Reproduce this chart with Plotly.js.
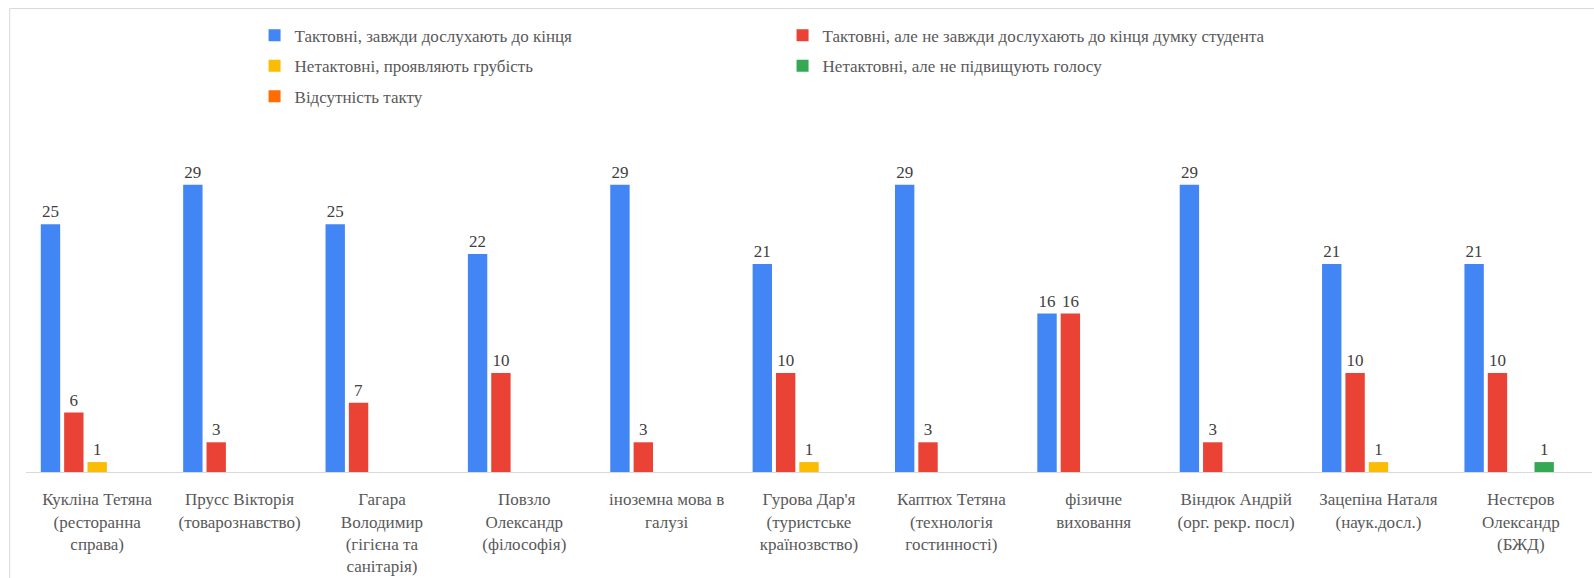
<!DOCTYPE html>
<html>
<head>
<meta charset="utf-8">
<script src="https://cdn.plot.ly/plotly-3.0.1.min.js"></script>
<style>
html,body{margin:0;padding:0;background:#fff;}
#chart{width:1594px;height:578px;}
</style>
</head>
<body>
<div id="chart"></div>
<script>
const categories = [
  "Кукліна Тетяна<br>(ресторанна<br>справа)",
  "Прусс Вікторія<br>(товарознавство)",
  "Гагара<br>Володимир<br>(гігієна та<br>санітарія)",
  "Повзло<br>Олександр<br>(філософія)",
  "іноземна мова в<br>галузі",
  "Гурова Дар'я<br>(туристське<br>країнозвство)",
  "Каптюх Тетяна<br>(технологія<br>гостинності)",
  "фізичне<br>виховання",
  "Віндюк Андрій<br>(орг. рекр. посл)",
  "Зацепіна Наталя<br>(наук.досл.)",
  "Нестєров<br>Олександр<br>(БЖД)"
];
const seriesNames = [
  "Тактовні, завжди дослухають до кінця",
  "Тактовні, але не завжди дослухають до кінця думку студента",
  "Нетактовні, проявляють грубість",
  "Нетактовні, але не підвищують голосу",
  "Відсутність такту"
];
const tactfulAlways = [25, 29, 25, 22, 29, 21, 29, 16, 29, 21, 21];
const tactfulNotAlways = [6, 3, 7, 10, 3, 10, 3, 16, 3, 10, 10];
const rude = [1, 0, 0, 0, 0, 1, 0, 0, 0, 1, 0];
const notRaisingVoice = [0, 0, 0, 0, 0, 0, 0, 0, 0, 0, 1];
const noTact = [0, 0, 0, 0, 0, 0, 0, 0, 0, 0, 0];
const colors = ["#4285F4", "#EA4335", "#FBBC04", "#34A853", "#FF6D01"];

const allSeries = [tactfulAlways, tactfulNotAlways, rude, notRaisingVoice, noTact];
const legendRows = ["legend", "legend", "legend2", "legend2", "legend3"];
const FONT = "Liberation Serif, Times New Roman, DejaVu Serif, serif";

const data = allSeries.map((vals, i) => ({
  type: "bar",
  name: seriesNames[i],
  legend: legendRows[i],
  x: categories,
  y: vals,
  marker: {color: colors[i]},
  text: vals.map(v => v > 0 ? String(v) : ""),
  textposition: "outside",
  textfont: {family: FONT, size: 17, color: "#404040"},
  cliponaxis: false,
  hoverinfo: "none"
}));

function legendRow(yc) {
  return {
    orientation: "h",
    xref: "container",
    yref: "container",
    x: 0.1597,
    y: yc,
    xanchor: "left",
    yanchor: "middle",
    entrywidthmode: "pixels",
    entrywidth: 483,
    traceorder: "normal",
    font: {family: FONT, size: 17, color: "#595959"},
    bgcolor: "rgba(0,0,0,0)"
  };
}

const layout = {
  width: 1594,
  height: 578,
  margin: {l: 26, r: 2, t: 155, b: 106, autoexpand: false},
  paper_bgcolor: "#ffffff",
  plot_bgcolor: "#ffffff",
  barmode: "group",
  bargap: 0.18,
  bargroupgap: 0.17,
  font: {family: FONT, size: 17, color: "#595959"},
  xaxis: {
    type: "category",
    automargin: false,
    showline: true,
    linecolor: "#d9d9d9",
    linewidth: 1,
    ticks: "",
    ticklabelstandoff: 12,
    showgrid: false,
    zeroline: false,
    tickangle: 0,
    tickfont: {family: FONT, size: 17, color: "#595959"},
    fixedrange: true
  },
  yaxis: {
    range: [0, 32],
    visible: false,
    automargin: false,
    showgrid: false,
    zeroline: false,
    fixedrange: true
  },
  showlegend: true,
  legend: legendRow(1 - 35.6 / 578),
  legend2: legendRow(1 - 66.1 / 578),
  legend3: legendRow(1 - 96.6 / 578),
  shapes: [{
    type: "rect",
    xref: "paper",
    yref: "paper",
    x0: -0.0104,
    x1: 1.2,
    y0: -1,
    y1: 1.462,
    line: {color: "#d9d9d9", width: 1},
    fillcolor: "rgba(0,0,0,0)"
  }]
};

Plotly.newPlot("chart", data, layout, {displayModeBar: false, staticPlot: true});
</script>
</body>
</html>
